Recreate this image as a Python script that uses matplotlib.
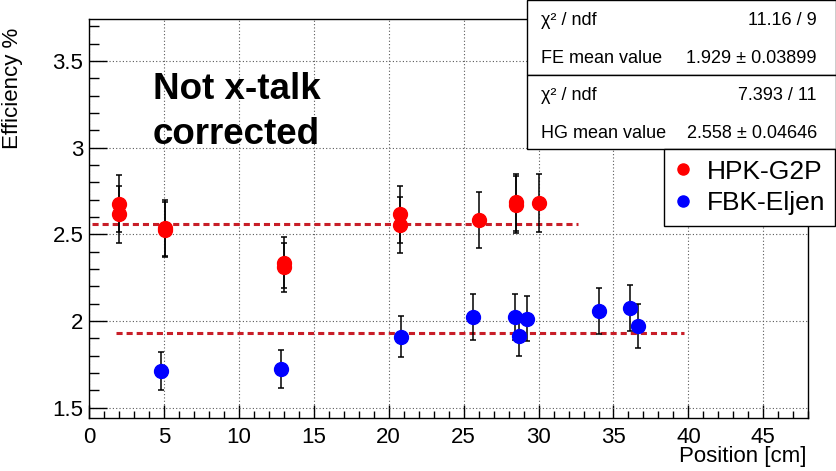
import matplotlib
matplotlib.use("Agg")
import matplotlib.pyplot as plt
from matplotlib.patches import Rectangle
from matplotlib.ticker import MultipleLocator

plt.rcParams['font.family'] = ['Liberation Sans', 'DejaVu Sans']

# HPK-G2P (HG) measurements
hg_pos = [2.0, 2.0, 5.1, 5.1, 13.0, 13.0, 20.75, 20.75, 26.0, 28.5, 28.5, 30.0]
hg_eff = [2.676, 2.615, 2.537, 2.527, 2.337, 2.310, 2.615, 2.555, 2.585, 2.685, 2.672, 2.680]
hg_err = [0.165, 0.165, 0.160, 0.160, 0.148, 0.142, 0.165, 0.160, 0.162, 0.165, 0.165, 0.168]

# FBK-Eljen (FE) measurements
fe_pos = [4.8, 12.8, 20.8, 25.6, 28.4, 28.7, 29.2, 34.0, 36.1, 36.65]
fe_eff = [1.713, 1.725, 1.910, 2.025, 2.025, 1.914, 2.014, 2.058, 2.075, 1.971]
fe_err = [0.110, 0.110, 0.120, 0.133, 0.133, 0.115, 0.130, 0.131, 0.132, 0.127]

# constant fits
hg_mean, hg_mean_err, hg_chi2, hg_ndf = 2.558, 0.04646, 7.393, 11
fe_mean, fe_mean_err, fe_chi2, fe_ndf = 1.929, 0.03899, 11.16, 9
hg_range = [0.2, 32.6]
fe_range = [1.8, 39.7]

W, H = 837, 471
fig = plt.figure(figsize=(W / 100, H / 100), dpi=100)
ax = fig.add_axes([89 / W, 1 - 418.3 / H, (808.3 - 89) / W, (418.3 - 19) / H])

ax.set_xlim(0, 48)
ax.set_ylim(1.439, 3.742)
ax.xaxis.set_major_locator(MultipleLocator(5))
ax.xaxis.set_minor_locator(MultipleLocator(1))
ax.yaxis.set_major_locator(MultipleLocator(0.5))
ax.yaxis.set_minor_locator(MultipleLocator(0.1))
ax.yaxis.set_major_formatter(plt.FuncFormatter(lambda v, p: f"{v:g}"))

ax.grid(True, which='major', color='0.35', linestyle=(0, (1, 2)), linewidth=0.8)
ax.set_axisbelow(True)
for s in ax.spines.values():
    s.set_linewidth(1.0)

ax.tick_params(axis='both', which='both', direction='in', width=1.0, labelsize=16)
ax.tick_params(axis='y', which='major', length=13, pad=4)
ax.tick_params(axis='y', which='minor', length=7)
ax.tick_params(axis='x', which='major', length=9.4, pad=6)
ax.tick_params(axis='x', which='minor', length=4.7)

fit_color = '#c81e28'
ax.plot(hg_range, [hg_mean, hg_mean], color=fit_color, lw=2.2,
        linestyle=(0, (2.0, 1.3)), zorder=2)
ax.plot(fe_range, [fe_mean, fe_mean], color=fit_color, lw=2.2,
        linestyle=(0, (2.0, 1.3)), zorder=2)

hg = ax.errorbar(hg_pos, hg_eff, yerr=hg_err, fmt='o', color='#ff0000',
                 ecolor='black', elinewidth=1.1, capsize=2, capthick=1.1,
                 markersize=10, zorder=3)
fe = ax.errorbar(fe_pos, fe_eff, yerr=fe_err, fmt='o', color='#0000ff',
                 ecolor='black', elinewidth=1.1, capsize=2, capthick=1.1,
                 markersize=10, zorder=3)

fig.text(13 / W, 1 - 28 / H, "Efficiency %", rotation=90, ha='center', va='top', fontsize=16)
fig.text(807 / W, 1 - 462 / H, "Position [cm]", ha='right', va='baseline', fontsize=16)

fig.text(153 / W, 1 - 99 / H, "Not x-talk", fontsize=26.5, fontweight='bold', va='baseline')
fig.text(153 / W, 1 - 144 / H, "corrected", fontsize=26.5, fontweight='bold', va='baseline')

# fit statistics boxes
boxes = [
    (0, 75, fe_chi2, fe_ndf, "FE", fe_mean, fe_mean_err),
    (75, 149, hg_chi2, hg_ndf, "HG", hg_mean, hg_mean_err),
]
for top, bot, chi2, ndf, tag, mean, err in boxes:
    fig.patches.append(Rectangle((527 / W, 1 - bot / H), (835.5 - 527) / W, (bot - top) / H,
                                 transform=fig.transFigure, facecolor='white',
                                 edgecolor='black', lw=1.0, zorder=5))
    fig.text(541 / W, 1 - (top + 25) / H, "χ² / ndf", fontsize=13, va='baseline', zorder=6)
    fig.text(817 / W, 1 - (top + 25) / H, f"{chi2:g} / {ndf}", fontsize=13,
             ha='right', va='baseline', zorder=6)
    fig.text(541 / W, 1 - (top + 63) / H, f"{tag} mean value", fontsize=13, va='baseline', zorder=6)
    fig.text(817 / W, 1 - (top + 63) / H, f"{mean:g} ± {err:g}", fontsize=13,
             ha='right', va='baseline', zorder=6)

leg = fig.legend([hg[0], fe[0]], ["HPK-G2P", "FBK-Eljen"], loc='upper right',
                 bbox_to_anchor=(835.5 / W, 1 - 149 / H), borderaxespad=0, fontsize=19,
                 frameon=True, fancybox=False, edgecolor='black', framealpha=1,
                 handlelength=0.6, handletextpad=0.6, borderpad=0.4,
                 labelspacing=0.3, markerscale=0.8)
leg.get_frame().set_linewidth(1.0)

fig.savefig("out.png", dpi=100)
